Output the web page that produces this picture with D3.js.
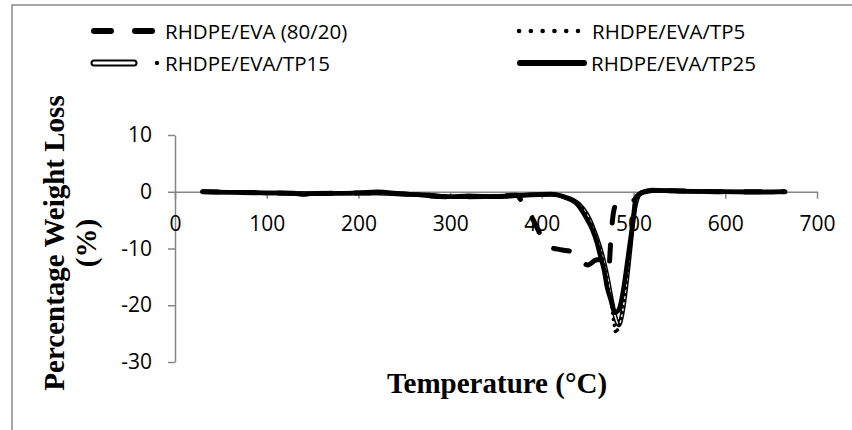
<!DOCTYPE html>
<html lang="en">
  <head>
    <meta charset="utf-8" />
    <title>Percentage Weight Loss vs Temperature</title>
    <script src="https://cdnjs.cloudflare.com/ajax/libs/d3/7.0.0/d3.min.js"></script>
    <style>
      body {
        margin: 0;
        background: #ffffff;
      }
      .tick-label {
        font-family: "Open Sans", sans-serif;
        font-size: 21px;
        fill: #000;
      }
      .legend-label {
        font-family: "Open Sans", sans-serif;
        font-size: 20.5px;
        fill: #000;
      }
      .axis-title {
        font-family: "Liberation Serif", "Times New Roman", serif;
        font-weight: bold;
        font-size: 29px;
        fill: #000;
      }
    </style>
  </head>
  <body>
    <div id="chart"></div>
    <script>
      // ---- data ----
      const xTicks = [0, 100, 200, 300, 400, 500, 600, 700];
      const yTicks = [10, 0, -10, -20, -30];

      const tempEVA = [30, 100, 150, 200, 250, 300, 350, 372, 380, 390, 400, 410, 420, 434, 450, 460, 470, 473, 475, 477, 480, 485, 495, 500, 505, 512, 530, 600, 665];
      const lossEVA = [0, -0.2, -0.3, -0.2, -0.4, -0.9, -0.8, -0.6, -2.2, -4.8, -8, -9.8, -10.2, -10.6, -12.9, -12, -12, -13.5, -9, -5, -2.5, -1.8, -1.6, -1.5, -0.6, 0, 0.2, 0, 0];

      const tempTP5 = [30, 100, 150, 200, 250, 300, 350, 380, 410, 425, 440, 450, 457, 463, 468, 472, 476, 479, 481, 483, 486, 489, 492, 495, 498, 501, 504, 507, 512, 530, 600, 665];
      const lossTP5 = [0, -0.2, -0.3, -0.2, -0.4, -0.9, -0.8, -0.6, -0.5, -0.9, -2.2, -4.4, -7, -10, -13, -16.5, -20, -23.5, -25, -24, -22.5, -20, -16, -12, -7.5, -3.5, -1.2, -0.4, 0, 0.2, 0, 0];

      const tempTP15 = [30, 100, 150, 200, 250, 300, 350, 380, 410, 425, 440, 450, 457, 463, 468, 472, 476, 480, 484, 487, 490, 493, 496, 499, 502, 505, 508, 512, 530, 600, 665];
      const lossTP15 = [0, -0.2, -0.3, -0.2, -0.4, -0.9, -0.8, -0.6, -0.5, -0.9, -2.1, -4.2, -6.8, -9.6, -12.5, -15.5, -19, -22, -23.5, -22, -19, -15, -10.5, -6, -2.5, -0.8, -0.2, 0, 0.2, 0, 0];

      const tempTP25 = [30, 60, 100, 130, 140, 150, 200, 220, 250, 280, 300, 320, 350, 380, 410, 425, 439, 448, 455, 460, 464, 468, 471, 475, 478, 480, 483, 485, 488, 490, 493, 496, 498, 500, 502, 505, 509, 520, 530, 550, 600, 640, 665];
      const lossTP25 = [0, -0.1, -0.2, -0.3, -0.5, -0.3, -0.2, 0, -0.4, -0.6, -0.9, -0.7, -0.9, -0.6, -0.4, -1.0, -2.3, -4.5, -6.7, -9, -11.5, -14, -16.8, -19, -20.8, -21.3, -21, -20.3, -18, -16, -12.5, -9, -6.7, -4, -1.4, -0.6, -0.2, 0.3, 0.2, 0.1, 0, -0.1, 0];

      const seriesNames = ["RHDPE/EVA (80/20)", "RHDPE/EVA/TP5", "RHDPE/EVA/TP15", "RHDPE/EVA/TP25"];

      const width = 852;
      const height = 430;

      const svg = d3
        .select("#chart")
        .append("svg")
        .attr("width", width)
        .attr("height", height);

      // outer chart frame
      svg
        .append("rect")
        .attr("x", 12)
        .attr("y", 5)
        .attr("width", 900)
        .attr("height", 500)
        .attr("fill", "none")
        .attr("stroke", "#898989")
        .attr("stroke-width", 1.5);

      const x = d3.scaleLinear().domain([0, 700]).range([175, 817]);
      const y = d3.scaleLinear().domain([-30, 10]).range([362, 135]);

      const axisColor = "#868686";
      const plainNum = (d) => String(d); // hyphen minus like Excel

      // y axis (ticks outside, left)
      const yAxis = svg
        .append("g")
        .attr("transform", `translate(${x(0)},0)`)
        .call(
          d3.axisLeft(y).tickValues(yTicks).tickFormat(plainNum)
            .tickSize(7).tickSizeOuter(0).tickPadding(16)
        );
      yAxis.select(".domain").attr("stroke", axisColor).attr("stroke-width", 1.5);
      yAxis.selectAll(".tick line").attr("stroke", axisColor).attr("stroke-width", 1.5);
      yAxis.selectAll(".tick text").attr("class", "tick-label");
      yAxis.attr("font-size", null).attr("font-family", null);

      // x axis crossing at y = 0
      const xAxis = svg
        .append("g")
        .attr("transform", `translate(0,${y(0)})`)
        .call(
          d3.axisBottom(x).tickValues(xTicks).tickFormat(plainNum)
            .tickSize(7).tickSizeOuter(0).tickPadding(17)
        );
      xAxis.select(".domain").attr("stroke", axisColor).attr("stroke-width", 1.5);
      xAxis.selectAll(".tick line").attr("stroke", axisColor).attr("stroke-width", 1.5);
      xAxis.selectAll(".tick text").attr("class", "tick-label");
      xAxis.attr("font-size", null).attr("font-family", null);

      const line = d3
        .line()
        .x((d) => x(d[0]))
        .y((d) => y(d[1]))
        .curve(d3.curveMonotoneX);

      const zip = (t, v) => t.map((d, i) => [d, v[i]]);

      // RHDPE/EVA (80/20) - dashed
      svg
        .append("path")
        .attr("d", line(zip(tempEVA, lossEVA)))
        .attr("fill", "none")
        .attr("stroke", "#000")
        .attr("stroke-width", 5)
        .attr("stroke-linecap", "round")
        .attr("stroke-dasharray", "16 22");

      // RHDPE/EVA/TP15 - double line
      svg
        .append("path")
        .attr("d", line(zip(tempTP15, lossTP15)))
        .attr("fill", "none")
        .attr("stroke", "#000")
        .attr("stroke-width", 4.5);
      svg
        .append("path")
        .attr("d", line(zip(tempTP15, lossTP15)))
        .attr("fill", "none")
        .attr("stroke", "#fff")
        .attr("stroke-width", 1.5);

      // RHDPE/EVA/TP5 - dotted
      svg
        .append("path")
        .attr("d", line(zip(tempTP5, lossTP5)))
        .attr("fill", "none")
        .attr("stroke", "#000")
        .attr("stroke-width", 3.5)
        .attr("stroke-linecap", "round")
        .attr("stroke-dasharray", "0.1 6");

      // RHDPE/EVA/TP25 - solid
      svg
        .append("path")
        .attr("d", line(zip(tempTP25, lossTP25)))
        .attr("fill", "none")
        .attr("stroke", "#000")
        .attr("stroke-width", 4.5)
        .attr("stroke-linejoin", "round");

      // ---- legend ----
      const legend = svg.append("g");
      const row1 = 31;
      const row2 = 63;

      legend
        .append("line")
        .attr("x1", 94).attr("x2", 152).attr("y1", row1).attr("y2", row1)
        .attr("stroke", "#000").attr("stroke-width", 6)
        .attr("stroke-linecap", "round").attr("stroke-dasharray", "17 24");
      legend.append("text").attr("class", "legend-label")
        .attr("x", 165).attr("y", row1).attr("dominant-baseline", "central")
        .text(seriesNames[0]);

      legend
        .append("line")
        .attr("x1", 519).attr("x2", 578).attr("y1", row1).attr("y2", row1)
        .attr("stroke", "#000").attr("stroke-width", 4.5)
        .attr("stroke-linecap", "round").attr("stroke-dasharray", "0.1 11.7");
      legend.append("text").attr("class", "legend-label")
        .attr("x", 592).attr("y", row1).attr("dominant-baseline", "central")
        .text(seriesNames[1]);

      legend
        .append("line")
        .attr("x1", 94).attr("x2", 134).attr("y1", row2).attr("y2", row2)
        .attr("stroke", "#000").attr("stroke-width", 7).attr("stroke-linecap", "round");
      legend
        .append("line")
        .attr("x1", 94).attr("x2", 134).attr("y1", row2).attr("y2", row2)
        .attr("stroke", "#fff").attr("stroke-width", 3).attr("stroke-linecap", "round");
      legend.append("circle").attr("cx", 157).attr("cy", row2).attr("r", 2.2).attr("fill", "#000");
      legend.append("text").attr("class", "legend-label")
        .attr("x", 165).attr("y", row2).attr("dominant-baseline", "central")
        .text(seriesNames[2]);

      legend
        .append("line")
        .attr("x1", 520).attr("x2", 584).attr("y1", row2).attr("y2", row2)
        .attr("stroke", "#000").attr("stroke-width", 6).attr("stroke-linecap", "round");
      legend.append("text").attr("class", "legend-label")
        .attr("x", 591).attr("y", row2).attr("dominant-baseline", "central")
        .text(seriesNames[3]);

      // ---- axis titles ----
      svg
        .append("text")
        .attr("class", "axis-title")
        .attr("x", 497)
        .attr("y", 393)
        .attr("text-anchor", "middle")
        .text("Temperature (°C)");

      const yTitle = svg
        .append("text")
        .attr("class", "axis-title")
        .attr("text-anchor", "middle")
        .attr("transform", "translate(64,243) rotate(-90)");
      yTitle.append("tspan").attr("x", 0).attr("y", 0).text("Percentage Weight Loss");
      yTitle.append("tspan").attr("x", 0).attr("y", 32).text("(%)");
    </script>
  </body>
</html>
